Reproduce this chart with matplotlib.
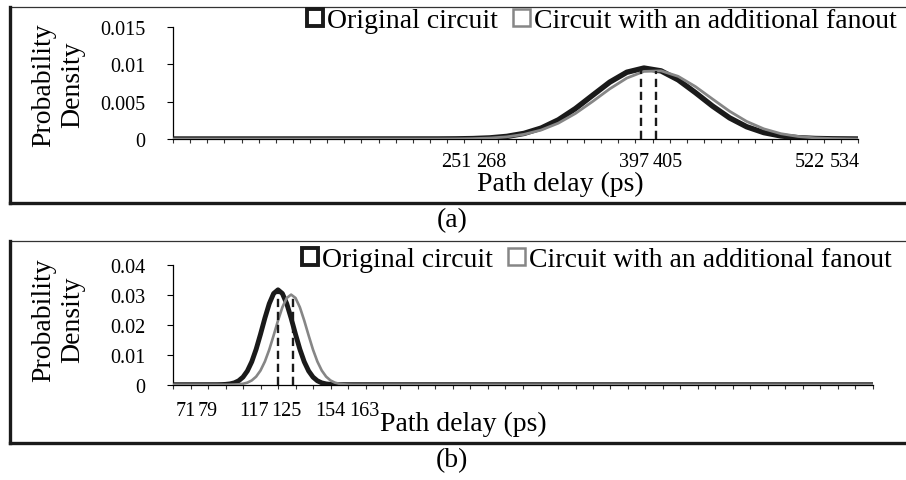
import numpy as np
import matplotlib
matplotlib.use("Agg")
import matplotlib.pyplot as plt
from matplotlib.patches import Patch
from matplotlib.lines import Line2D

plt.rcParams['font.family'] = ['Liberation Serif', 'DejaVu Serif']

# ---- data (x = category slot along the path-delay axis, 40 slots) ----
series_names = ["Original circuit", "Circuit with an additional fanout"]

# panel (a)
xa = [15.5, 16.5, 17.5, 18.5, 19.5, 20.5, 21.5, 22.5, 23.5, 24.5, 25.5, 26.5, 27.5,
      28.5, 29.5, 30.5, 31.5, 32.5, 33.5, 34.5, 35.5, 36.5, 37.5, 38.5, 39.5]
a_orig = [0.000006, 0.000019, 0.000056, 0.000146, 0.000349, 0.00075, 0.00146, 0.00256,
          0.00407, 0.00585, 0.00761, 0.00894, 0.00950, 0.00912, 0.00792, 0.00622,
          0.00442, 0.00283, 0.00164, 0.00086, 0.00041, 0.000176, 0.000068, 0.000025, 0.000008]
a_fan = [0.000006, 0.000016, 0.000048, 0.000124, 0.00029, 0.00062, 0.00120, 0.00212,
         0.00342, 0.00502, 0.00671, 0.00816, 0.00905, 0.00913, 0.00839, 0.00703,
         0.00536, 0.00372, 0.00235, 0.00136, 0.00071, 0.00034, 0.000148, 0.000059, 0.000021]
a_mean_slot = [27.35, 28.23]
a_mean_height = [0.0094, 0.0091]
a_tick_labels = ["251", "268", "397", "405", "522", "534"]
a_tick_slots = [16.55, 18.6, 26.9, 28.9, 37.2, 39.25]

# panel (b)
xb_orig = np.arange(2.5, 9.75, 0.25)
b_orig = [0.000014, 0.00004, 0.000108, 0.000268, 0.000613, 0.0013, 0.00254, 0.00459,
          0.00766, 0.01183, 0.01687, 0.02223, 0.02707, 0.03047, 0.0317, 0.03047, 0.02707,
          0.02223, 0.01687, 0.01183, 0.00766, 0.00459, 0.00254, 0.0013, 0.000613,
          0.000268, 0.000108, 0.00004, 0.000014]
xb_fan = np.arange(3.25, 10.5, 0.25)
b_fan = [0.000018, 0.000051, 0.000131, 0.000313, 0.00069, 0.00142, 0.00269, 0.00474,
         0.00774, 0.01171, 0.01646, 0.02142, 0.02588, 0.02899, 0.0301, 0.02899, 0.02588,
         0.02142, 0.01646, 0.01171, 0.00774, 0.00474, 0.00269, 0.00142, 0.00069,
         0.000313, 0.000131, 0.000051, 0.000018]
b_mean_slot = [5.98, 6.84]
b_mean_height = [0.0317, 0.0295]
b_tick_labels = ["71", "79", "117", "125", "154", "163"]
b_tick_slots = [0.72, 1.97, 4.65, 6.45, 8.97, 10.93]

BLACK = "#1a1a1a"
GREY = "#868686"

fig = plt.figure(figsize=(9.06, 4.81), dpi=100)
W, H = 906.0, 481.0


def add_panel(rect, xs, ys, line_w, mean_slot, mean_h, ylim, yticks, yticklabels,
              tick_labels, tick_slots, label_y, xlabel_pos, leg_pos, ylab_pos, tag, tag_pos):
    ax = fig.add_axes(rect)
    nslots = 40
    # flat zero run across the whole category range
    for (x, y), col, lw in zip(zip(xs, ys), [BLACK, GREY], line_w):
        xx = [0] + list(x) + [nslots]
        yy = [0] + list(y) + [0]
        ax.plot(xx, yy, color=col, lw=lw, solid_capstyle='butt', zorder=3)
    for m, h in zip(mean_slot, mean_h):
        ax.plot([m, m], [0, h], color=BLACK, lw=1.7, ls=(0, (3.5, 2.0)), zorder=4)

    ax.set_xlim(0, nslots)
    ax.set_ylim(*ylim)
    ax.set_yticks(yticks)
    ax.set_yticklabels(yticklabels, fontsize=14.5)
    ax.set_xticks(range(nslots + 1))
    ax.set_xticklabels([])
    ax.set_xticks(tick_slots, tick_labels, minor=True, fontsize=14.5)
    ax.tick_params(axis='x', which='major', direction='out', length=3.2, width=0.8, color='#333333')
    ax.tick_params(axis='x', which='minor', length=0, pad=label_y)
    ax.tick_params(axis='y', direction='out', length=4.3, width=0.8, pad=15.5)
    for s in ['top', 'right']:
        ax.spines[s].set_visible(False)
    ax.spines['left'].set_linewidth(0.9)
    ax.spines['bottom'].set_linewidth(0.9)

    fig.text(xlabel_pos[0] / W, 1 - xlabel_pos[1] / H, "Path delay (ps)",
             fontsize=20, ha='center', va='center')
    fig.text(ylab_pos[0] / W, 1 - ylab_pos[1] / H, "Probability\nDensity",
             fontsize=20, ha='center', va='center', rotation=90, linespacing=1.2)
    handles = [Patch(facecolor='white', edgecolor=BLACK, linewidth=2.8),
               Patch(facecolor='white', edgecolor=GREY, linewidth=1.8)]
    fig.legend(handles, series_names, loc='center left',
               bbox_to_anchor=(leg_pos[0] / W, 1 - leg_pos[1] / H),
               ncol=2, frameon=False, fontsize=20, handlelength=0.58, handleheight=0.58,
               handletextpad=0.15, columnspacing=0.55, borderpad=0, borderaxespad=0)
    fig.text(tag_pos[0] / W, 1 - tag_pos[1] / H, tag, fontsize=20, ha='center', va='center')
    return ax


add_panel([173 / W, 1 - 140 / H, 685 / W, 112 / H], [xa, xa], [a_orig, a_fan], [3.9, 2.0],
          a_mean_slot, a_mean_height, (0, 0.015), [0, 0.005, 0.01, 0.015],
          ["0", "0.005", "0.01", "0.015"], a_tick_labels, a_tick_slots, 9.5,
          (560, 184), (307, 22), (58, 85), "(a)", (452, 221))
add_panel([173 / W, 1 - 385.7 / H, 700 / W, 119.7 / H], [xb_orig, xb_fan], [b_orig, b_fan], [3.5, 1.9],
          b_mean_slot, b_mean_height, (0, 0.04), [0, 0.01, 0.02, 0.03, 0.04],
          ["0", "0.01", "0.02", "0.03", "0.04"], b_tick_labels, b_tick_slots, 11.5,
          (463, 424), (302, 261), (58, 320), "(b)", (452, 461))

# chart-area borders: thin top edge, heavy left and bottom edges
for top, bottom in [(7.5, 203.5), (242, 443.5)]:
    fig.add_artist(Line2D([10 / W, 1], [1 - top / H, 1 - top / H], transform=fig.transFigure,
                          color='#333333', lw=0.9))
    fig.add_artist(Line2D([10 / W, 10 / W], [1 - top / H, 1 - bottom / H], transform=fig.transFigure,
                          color=BLACK, lw=2.4))
    fig.add_artist(Line2D([10 / W, 1], [1 - bottom / H, 1 - bottom / H], transform=fig.transFigure,
                          color=BLACK, lw=2.4))

fig.savefig("out.png", dpi=100)
